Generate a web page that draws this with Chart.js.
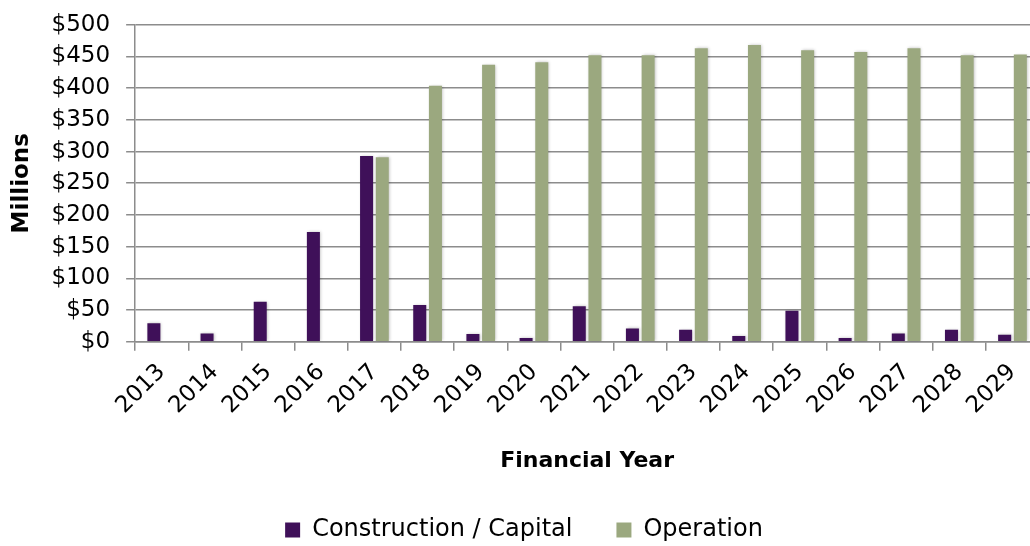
<!DOCTYPE html>
<html lang="en">
<head>
    <meta charset="UTF-8">
    <title>Construction and Operation Costs by Financial Year</title>
    <script src="https://cdn.jsdelivr.net/npm/chart.js"></script>
    <style>
        html, body {
            margin: 0;
            padding: 0;
            background: #fff;
            overflow: hidden;
        }

        /* a little bigger than the window so the plot runs to the edges */
        .chart-box {
            width: 1040px;
            height: 557px;
            margin-top: -5px;
        }
    </style>
</head>
<body>

    <div class="chart-box">
        <canvas id="costChart"></canvas>
    </div>

    <script>
        const years = ["2013", "2014", "2015", "2016", "2017", "2018", "2019", "2020", "2021",
                       "2022", "2023", "2024", "2025", "2026", "2027", "2028", "2029"];

        // $ millions
        const construction = [29, 13, 63, 173, 293, 58, 12, 6, 56, 21, 19, 9, 49, 6, 13, 19, 11];
        const operation = [0, 0, 0, 0, 291, 404, 437, 441, 452, 452, 463, 468, 460, 457, 463, 452, 453];

        const yTicks = [0, 50, 100, 150, 200, 250, 300, 350, 400, 450, 500];

        const gridGrey = "#8c8c8c";
        const font = "'DejaVu Sans', Verdana, sans-serif";

        // soft drop shadow behind the bars
        const barShadow = {
            id: "barShadow",
            beforeDatasetsDraw(chart) {
                const ctx = chart.ctx;
                ctx.save();
                ctx.shadowColor = "rgba(0, 0, 0, 0.25)";
                ctx.shadowBlur = 3;
                ctx.shadowOffsetX = 1;
                ctx.shadowOffsetY = 0;
            },
            afterDatasetsDraw(chart) {
                chart.ctx.restore();
            }
        };

        new Chart(document.getElementById("costChart"), {
            type: "bar",
            data: {
                labels: years,
                datasets: [
                    {
                        label: "Construction / Capital",
                        data: construction,
                        backgroundColor: "#3f1059",
                        categoryPercentage: 0.59,
                        barPercentage: 0.83
                    },
                    {
                        label: "Operation",
                        data: operation,
                        backgroundColor: "#9ba87f",
                        categoryPercentage: 0.59,
                        barPercentage: 0.83
                    }
                ]
            },
            options: {
                responsive: true,
                maintainAspectRatio: false,
                animation: false,
                layout: { padding: { top: 0, left: 8, right: 0, bottom: 0 } },
                plugins: {
                    tooltip: { enabled: false },
                    legend: {
                        position: "bottom",
                        labels: {
                            color: "#000",
                            font: { family: font, size: 24 },
                            boxWidth: 15,
                            boxHeight: 15,
                            padding: 44
                        }
                    }
                },
                scales: {
                    x: {
                        grid: {
                            display: true,
                            drawOnChartArea: false,
                            offset: true,
                            color: gridGrey,
                            lineWidth: 1.5,
                            tickLength: 9
                        },
                        border: { color: gridGrey, width: 1.5 },
                        ticks: {
                            color: "#000",
                            font: { family: font, size: 23 },
                            minRotation: 45,
                            maxRotation: 45,
                            autoSkip: false,
                            padding: 8
                        },
                        title: {
                            display: true,
                            text: "Financial Year",
                            color: "#000",
                            font: { family: font, size: 22, weight: "bold" },
                            padding: { top: 20, bottom: 0 }
                        }
                    },
                    y: {
                        min: 0,
                        max: 500,
                        afterBuildTicks(axis) {
                            axis.ticks = yTicks.map(v => ({ value: v }));
                        },
                        grid: {
                            color: gridGrey,
                            lineWidth: 1.5,
                            tickLength: 9
                        },
                        border: { color: gridGrey, width: 1.5 },
                        ticks: {
                            color: "#000",
                            font: { family: font, size: 23 },
                            padding: 16,
                            autoSkip: false,
                            callback: v => "$" + v
                        },
                        title: {
                            display: true,
                            text: "Millions",
                            color: "#000",
                            font: { family: font, size: 23, weight: "bold" },
                            padding: { top: 0, bottom: 0 }
                        }
                    }
                }
            },
            plugins: [barShadow]
        });
    </script>

</body>
</html>
